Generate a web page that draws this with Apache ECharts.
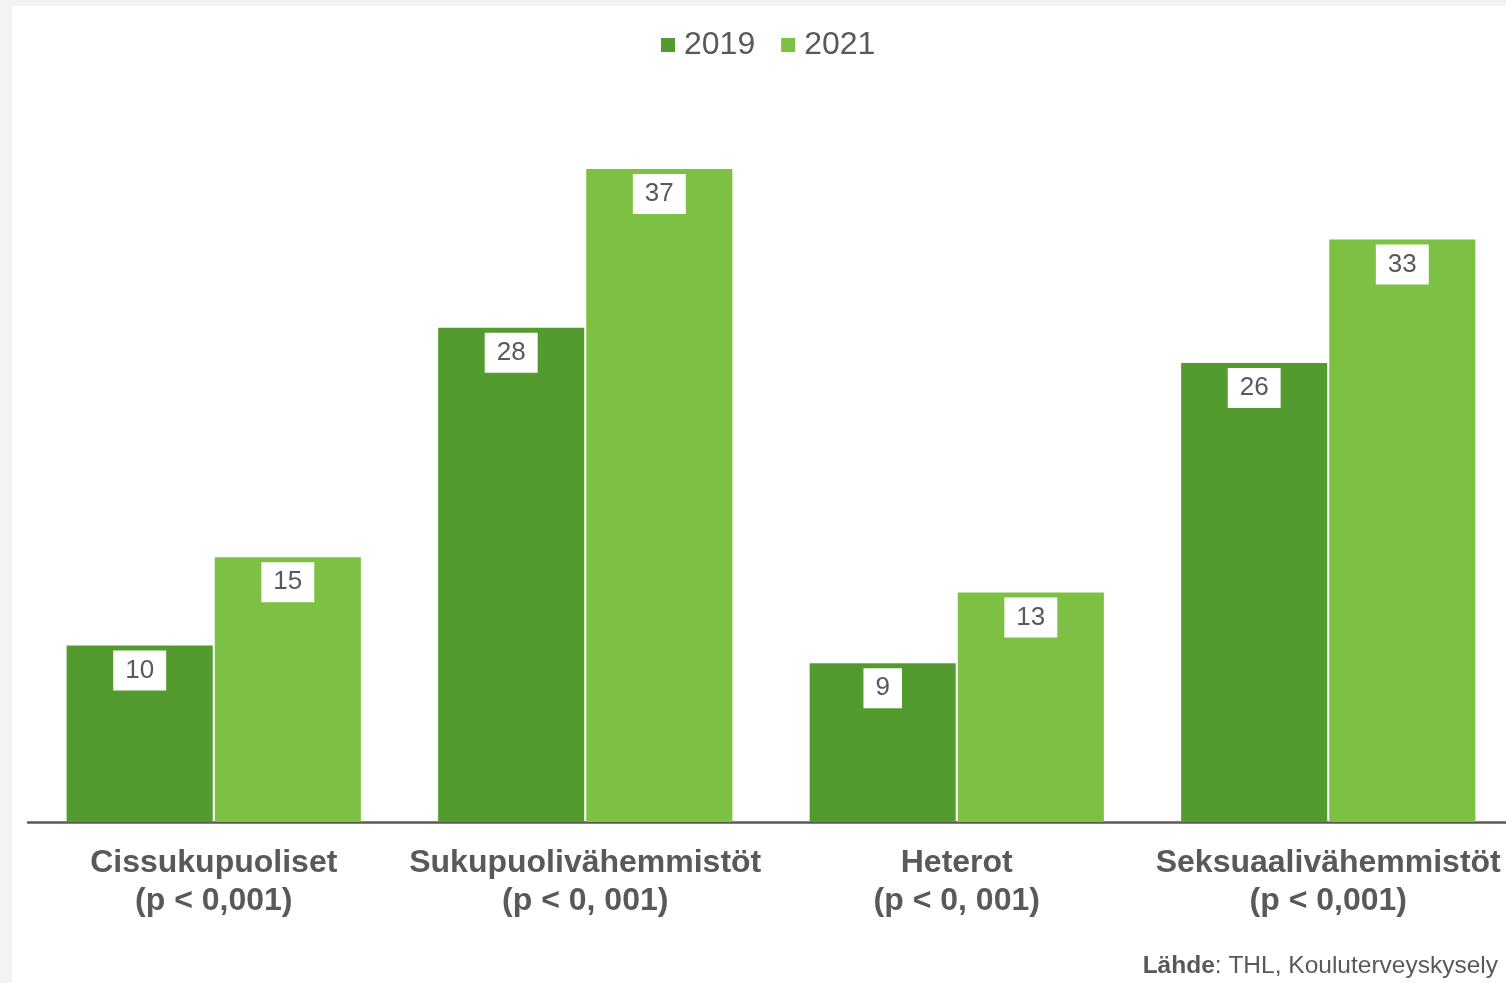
<!DOCTYPE html>
<html>
<head>
<meta charset="utf-8">
<script src="https://cdn.jsdelivr.net/npm/echarts@6/dist/echarts.min.js"></script>
<style>
  html, body { margin: 0; padding: 0; background: #fff; }
  #chart { width: 1506px; height: 983px; }
</style>
</head>
<body>
<div id="chart"></div>
<script>
// groups on the x axis
var categories = [
  'Cissukupuoliset\n(p < 0,001)',
  'Sukupuolivähemmistöt\n(p < 0, 001)',
  'Heterot\n(p < 0, 001)',
  'Seksuaalivähemmistöt\n(p < 0,001)'
]
var years = ['2019', '2021']
var values2019 = [10, 28, 9, 26]
var values2021 = [15, 37, 13, 33]

var textGray = '#595959'
var font = '"Liberation Sans", Arial, sans-serif'

function barLabel() {
  return {
    show: true,
    position: 'insideTop',
    distance: 5,
    backgroundColor: '#fff',
    padding: [7, 12, 7, 12],
    color: textGray,
    fontSize: 26,
    fontFamily: font
  }
}

var chart = echarts.init(document.getElementById('chart'))
chart.setOption({
  animation: false,
  backgroundColor: '#fff',
  textStyle: { fontFamily: font },
  graphic: [
    // light grey frame on top and left edge
    { type: 'rect', left: 0, top: 0, shape: { width: 1506, height: 6 }, style: { fill: '#f3f3f3' }, z: -1 },
    { type: 'rect', left: 0, top: 0, shape: { width: 12, height: 983 }, style: { fill: '#f3f3f3' }, z: -1 },
    {
      type: 'text',
      right: 8,
      top: 954,
      style: {
        text: '{b|Lähde}: THL, Kouluterveyskysely',
        font: '24.5px ' + font,
        fill: textGray,
        rich: { b: { fontWeight: 'bold', fontSize: 24.5, fill: textGray, fontFamily: font } }
      }
    }
  ],
  legend: {
    data: years,
    top: 24,
    left: 656,
    itemWidth: 14,
    itemHeight: 14,
    itemGap: 26,
    icon: 'rect',
    textStyle: { color: textGray, fontSize: 32, fontFamily: font, padding: [0, 0, 0, 4] }
  },
  grid: {
    left: 28,
    width: 1486,
    top: 116,
    bottom: 161,
    outerBoundsMode: 'none'
  },
  xAxis: {
    type: 'category',
    data: categories,
    axisTick: { show: false },
    axisLine: { lineStyle: { color: textGray, width: 2.5 } },
    axisLabel: {
      interval: 0,
      color: textGray,
      fontSize: 32,
      fontWeight: 'bold',
      lineHeight: 38,
      margin: 22,
      fontFamily: font
    }
  },
  yAxis: {
    type: 'value',
    min: 0,
    max: 40,
    show: false,
    splitLine: { show: false }
  },
  series: [
    {
      name: '2019',
      type: 'bar',
      data: values2019,
      barCategoryGap: '20.8%',
      barGap: '1.4%',
      itemStyle: { color: '#539b2f' },
      label: barLabel()
    },
    {
      name: '2021',
      type: 'bar',
      data: values2021,
      itemStyle: { color: '#7cc143' },
      label: barLabel()
    }
  ]
})
</script>
</body>
</html>
